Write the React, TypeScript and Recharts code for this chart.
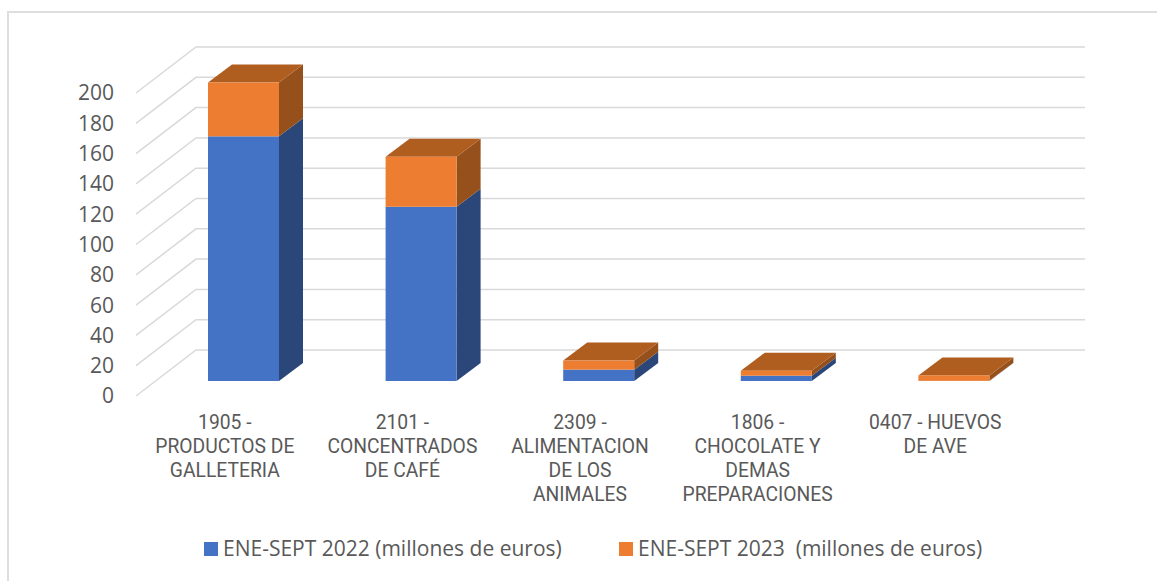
import React from 'react';
import { BarChart, Bar, XAxis, YAxis, CartesianGrid, Legend } from 'recharts';

const categoryLines: string[][] = [
  ['1905 -', 'PRODUCTOS DE', 'GALLETERIA'],
  ['2101 -', 'CONCENTRADOS', 'DE CAFÉ'],
  ['2309 -', 'ALIMENTACION', 'DE LOS', 'ANIMALES'],
  ['1806 -', 'CHOCOLATE Y', 'DEMAS', 'PREPARACIONES'],
  ['0407 - HUEVOS', 'DE AVE'],
];
const categories = categoryLines.map((l) => l.join(' '));
const series2022 = [161.5, 115, 7.5, 3.5, 0.1];
const series2023 = [35.5, 33, 6, 3.3, 3.6];
const yTicks = [0, 20, 40, 60, 80, 100, 120, 140, 160, 180, 200];
const name2022 = 'ENE-SEPT 2022 (millones de euros)';
const name2023 = 'ENE-SEPT 2023  (millones de euros)';

const data = categories.map((c, i) => ({ c, a: series2022[i], b: series2023[i] }));

const WIDTH = 1157;
const HEIGHT = 581;
const WALL_DX = 60;
const WALL_DY = 46;
const BAR_SHIFT_X = 19;
const BAR_SHIFT_Y = 15;
const DEPTH_X = 24;
const DEPTH_Y = 18;
const TEXT = '#595959';
const X_AXIS_H = 60;
const Y_AXIS_W = 60;

const gridLine = (p: any) => {
  const { x1, x2, y1, key } = p;
  return (
    <path
      key={key ?? y1}
      d={`M${x1} ${y1}L${x1 + WALL_DX} ${y1 - WALL_DY}L${x2 + WALL_DX + 1} ${y1 - WALL_DY}`}
      fill="none"
      stroke="#d9d9d9"
      strokeWidth={1.5}
    />
  );
};

const makeBox = (front: string, side: string, top: string | null) => (p: any) => {
  const { x, y, width, height } = p;
  const l = x + BAR_SHIFT_X;
  const r = l + width;
  const t = y - BAR_SHIFT_Y;
  const b = t + height;
  return (
    <g>
      <path
        d={`M${r} ${t}L${r + DEPTH_X} ${t - DEPTH_Y}L${r + DEPTH_X} ${b - DEPTH_Y}L${r} ${b}Z`}
        fill={side}
      />
      {top && (
        <path
          d={`M${l} ${t}L${l + DEPTH_X} ${t - DEPTH_Y}L${r + DEPTH_X} ${t - DEPTH_Y}L${r} ${t}Z`}
          fill={top}
        />
      )}
      <rect x={l} y={t} width={width} height={height} fill={front} />
    </g>
  );
};

const CategoryTick = (p: any) => {
  const lines = categoryLines[p.payload.index] ?? [];
  return (
    <text
      x={p.x}
      y={429}
      textAnchor="middle"
      fontFamily="Roboto, sans-serif"
      fontSize={19.3}
      fontWeight={400}
      fill={TEXT}
    >
      {lines.map((line, i) => (
        <tspan key={i} x={p.x} y={429 + i * 24}>
          {line}
        </tspan>
      ))}
    </text>
  );
};

const legendEntry = (x: number, color: string, label: string) => (
  <g key={label}>
    <rect x={x} y={542} width={14} height={14} fill={color} />
    <text x={x + 19} y={556} fontFamily="'Open Sans', sans-serif" fontSize={21} fill={TEXT} xmlSpace="preserve">
      {label}
    </text>
  </g>
);

const LegendContent = (p: any) => {
  const items = p.payload ?? [];
  const xs = [204, 619];
  return (
    <svg width={WIDTH} height={HEIGHT} style={{ position: 'absolute', left: 0, top: 0, overflow: 'visible' }}>
      {items.map((it: any, i: number) => legendEntry(xs[i], it.color, it.value))}
    </svg>
  );
};

export default function App() {
  return (
    <div style={{ position: 'absolute', left: 0, top: 0, width: WIDTH, height: HEIGHT, background: '#fff', overflow: 'hidden' }}>
      <div style={{ position: 'absolute', left: 7, top: 11, width: WIDTH - 7, height: 1.5, background: '#dedede' }} />
      <div style={{ position: 'absolute', left: 7, top: 11, width: 2, height: HEIGHT - 11, background: '#dedede' }} />
      <div style={{ position: 'absolute', left: 0, top: 0 }}>
        <BarChart
          width={WIDTH}
          height={HEIGHT}
          data={data}
          margin={{ left: 136 - Y_AXIS_W, right: WIDTH - 1024, top: 93, bottom: HEIGHT - 396 - X_AXIS_H }}
          barCategoryGap={0}
        >
          <CartesianGrid vertical={false} horizontal={gridLine} />
          <XAxis
            dataKey="c"
            axisLine={false}
            tickLine={false}
            interval={0}
            tick={CategoryTick}
            height={X_AXIS_H}
          />
          <YAxis
            domain={[0, 200]}
            ticks={yTicks}
            interval={0}
            axisLine={false}
            tickLine={false}
            width={Y_AXIS_W}
            tickMargin={16}
            tick={{ fill: TEXT, fontFamily: "'Open Sans', sans-serif", fontSize: 21 }}
          />
          <Legend content={LegendContent} wrapperStyle={{ left: 0, top: 0, width: WIDTH, height: 0 }} />
          <Bar
            dataKey="a"
            name={name2022}
            stackId="s"
            fill="#4472c4"
            barSize={71}
            isAnimationActive={false}
            shape={makeBox('#4472c4', '#2b4779', null)}
          />
          <Bar
            dataKey="b"
            name={name2023}
            stackId="s"
            fill="#ed7d31"
            barSize={71}
            isAnimationActive={false}
            shape={makeBox('#ed7d31', '#96501c', '#b05d20')}
          />
        </BarChart>
      </div>
    </div>
  );
}
